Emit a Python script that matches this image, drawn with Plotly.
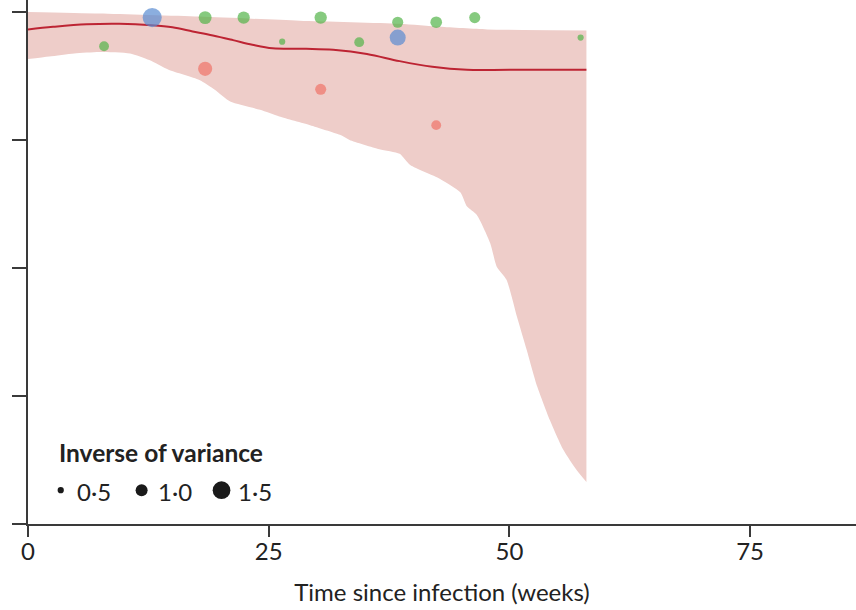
import plotly.graph_objects as go

# ---- data ----
x_ticks = [0, 25, 50, 75]
y_ticks = [0, 0.25, 0.5, 0.75, 1.0]

# fitted curve
fit_x = [0, 2.6, 6.1, 9.5, 12.9, 15.0, 17.1, 19.2, 21.3, 23.3, 25.4, 28.9, 31.7, 35.2, 38.6, 42.0, 45.6, 50.0, 58.0]
fit_y = [0.966, 0.971, 0.976, 0.977, 0.974, 0.970, 0.962, 0.954, 0.945, 0.936, 0.929, 0.928, 0.926, 0.918, 0.904, 0.893, 0.887, 0.887, 0.887]

# confidence band
low_x = [0, 2.2, 4.8, 7.4, 10.6, 12.6, 14.6, 17.8, 19.4, 21.0, 24.1, 26.1, 29.3, 32.4, 33.4, 36.5, 38.6, 39.7,
         42.8, 44.9, 45.6, 46.6, 48.0, 48.7, 49.7, 50.8, 51.8, 52.9, 54.2, 55.6, 57.0, 58.0]
low_y = [0.908, 0.913, 0.919, 0.922, 0.919, 0.906, 0.887, 0.867, 0.848, 0.825, 0.809, 0.796, 0.779, 0.760, 0.750,
         0.732, 0.723, 0.701, 0.674, 0.648, 0.620, 0.604, 0.549, 0.502, 0.477, 0.404, 0.340, 0.268, 0.203, 0.145,
         0.105, 0.082]
up_x = [0, 7.4, 17.8, 28.2, 38.6, 42.8, 47.7, 58.0]
up_y = [1.000, 0.997, 0.991, 0.983, 0.977, 0.971, 0.966, 0.964]

# individual studies: week, value, inverse of variance, group
pt_x = [12.9, 18.4, 22.4, 30.4, 38.4, 42.4, 46.4, 7.9, 26.4, 34.4, 57.4, 38.4, 18.4, 30.4, 42.4]
pt_y = [0.989, 0.989, 0.989, 0.989, 0.980, 0.980, 0.989, 0.933, 0.942, 0.941, 0.950, 0.950, 0.889, 0.849, 0.779]
pt_w = [1.55, 1.05, 1.0, 1.0, 0.9, 0.95, 0.9, 0.8, 0.5, 0.8, 0.5, 1.3, 1.15, 0.9, 0.8]
pt_g = ["blue", "green", "green", "green", "green", "green", "green", "green", "green", "green", "green",
        "blue", "red", "red", "red"]

legend_w = [0.5, 1.0, 1.5]
legend_labels = ["0·5", "1·0", "1·5"]

# ---- style ----
FONT = "Lato"
colors = {"green": "#52b449", "blue": "#5a8bd2", "red": "#ef7468"}
SIZE_K = 12.3
AX = "#3a3a3a"

fig = go.Figure()

fig.add_trace(go.Scatter(x=up_x, y=up_y, mode="lines", line=dict(width=0, shape="spline", smoothing=0.6),
                         hoverinfo="skip"))
fig.add_trace(go.Scatter(x=low_x, y=low_y, mode="lines", fill="tonexty", fillcolor="#eecdc9",
                         line=dict(width=0, shape="spline", smoothing=0.6), hoverinfo="skip"))

fig.add_trace(go.Scatter(x=fit_x, y=fit_y, mode="lines", line=dict(color="#bd2433", width=2, shape="spline")))

for g in ["green", "red", "blue"]:
    idx = [i for i, gg in enumerate(pt_g) if gg == g]
    fig.add_trace(go.Scatter(
        x=[pt_x[i] for i in idx], y=[pt_y[i] for i in idx], mode="markers",
        marker=dict(color=colors[g], size=[SIZE_K * pt_w[i] for i in idx], line=dict(width=0))))

# legend (bubble sizes)
leg_x = [3.4, 11.8, 20.1]
leg_y = 0.066
for lx, w, lab in zip(leg_x, legend_w, legend_labels):
    d = 11.5 * w + 0.5
    fig.add_shape(type="circle", xref="x", yref="y", xsizemode="pixel", ysizemode="pixel",
                  xanchor=lx, yanchor=leg_y, x0=-d / 2, x1=d / 2, y0=-d / 2, y1=d / 2,
                  fillcolor="#1a1a1a", line=dict(width=0))
    fig.add_annotation(x=lx, y=leg_y, xref="x", yref="y", text=lab, showarrow=False,
                       xanchor="left", xshift=14, yshift=-1,
                       font=dict(family=FONT, size=24, color="#222"))
fig.add_annotation(x=3.0, y=0.1406, xref="x", yref="y", text="<b>Inverse of variance</b>", showarrow=False,
                   xanchor="left", font=dict(family=FONT, size=24.5, color="#222"))

fig.update_layout(
    width=856, height=610, margin=dict(l=28, r=0, t=0, b=86),
    paper_bgcolor="white", plot_bgcolor="white", showlegend=False,
    font=dict(family=FONT, size=24, color="#222"),
    xaxis=dict(range=[0, 86], tickvals=x_ticks, ticks="outside", ticklen=11, tickwidth=1.5, tickcolor=AX,
               showline=True, linecolor=AX, linewidth=1.5, showgrid=False, zeroline=False, automargin=False,
               tickfont=dict(family=FONT, size=24, color="#222"), ticklabelstandoff=-6,
               title=dict(text="Time since infection (weeks)", font=dict(family=FONT, size=24, color="#222"),
                          standoff=21)),
    yaxis=dict(range=[0, 1.0234], tickvals=y_ticks, ticks="outside", ticklen=14, tickwidth=1.5, tickcolor=AX,
               showline=True, linecolor=AX, linewidth=1.5, showgrid=False, zeroline=False, automargin=False,
               showticklabels=False),
)

fig.write_html("out.html", config={"displayModeBar": False},
               post_script="document.body.style.margin='0';document.body.style.overflow='hidden';")
